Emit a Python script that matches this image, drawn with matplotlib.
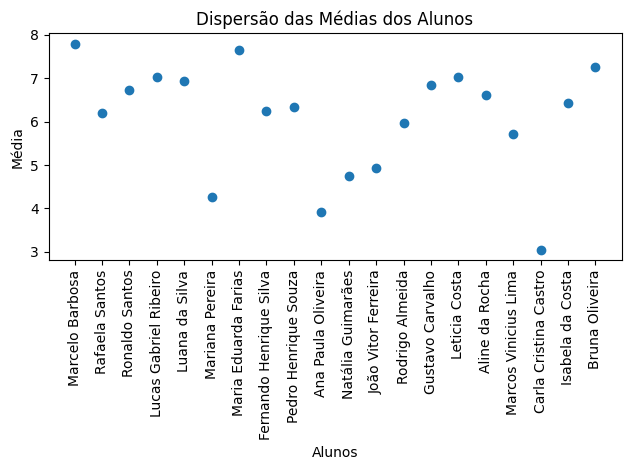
import matplotlib
matplotlib.use("Agg")
import matplotlib.pyplot as plt

alunos = ["Marcelo Barbosa", "Rafaela Santos", "Ronaldo Santos", "Lucas Gabriel Ribeiro",
          "Luana da Silva", "Mariana Pereira", "Maria Eduarda Farias", "Fernando Henrique Silva",
          "Pedro Henrique Souza", "Ana Paula Oliveira", "Natália Guimarães", "João Vitor Ferreira",
          "Rodrigo Almeida", "Gustavo Carvalho", "Leticia Costa", "Aline da Rocha",
          "Marcos Vinicius Lima", "Carla Cristina Castro", "Isabela da Costa", "Bruna Oliveira"]
medias = [7.80, 6.20, 6.72, 7.04, 6.93, 4.27, 7.66, 6.24, 6.33, 3.93,
          4.75, 4.93, 5.97, 6.84, 7.02, 6.61, 5.71, 3.05, 6.43, 7.25]

fig, ax = plt.subplots(figsize=(6.3, 4.7), dpi=100)
ax.scatter(alunos, medias)
ax.set_title("Dispersão das Médias dos Alunos")
ax.set_xlabel("Alunos")
ax.set_ylabel("Média")
plt.xticks(rotation=90)
fig.subplots_adjust(left=48.5 / 630, right=621.5 / 630, top=1 - 33.3 / 470, bottom=1 - 260 / 470)
fig.savefig("out.png", dpi=100)
